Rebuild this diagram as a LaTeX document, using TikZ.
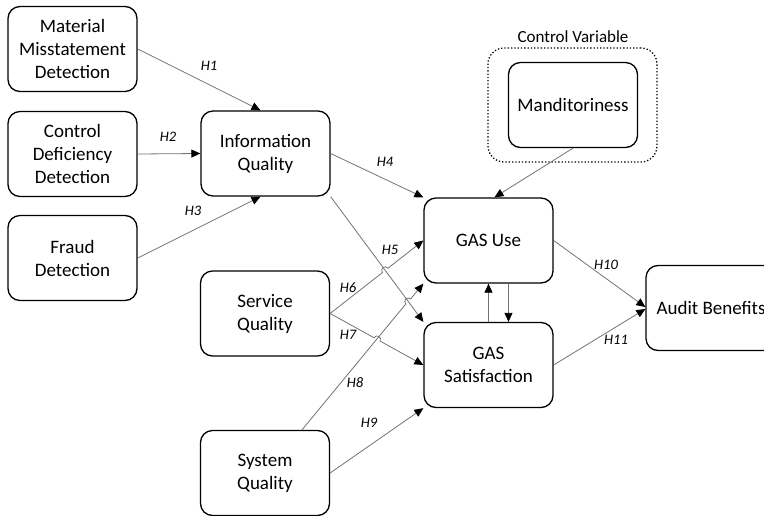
\documentclass[tikz,border=0pt]{standalone}
\usepackage{fontspec}
\setmainfont{Carlito}
\usetikzlibrary{arrows.meta,calc,intersections}

\begin{document}
\begin{tikzpicture}[x=1pt,y=-1pt,
    box/.style={draw, line width=1.3pt, rounded corners=12pt, minimum width=129pt,
        minimum height=85pt, align=center, font=\fontsize{19}{23}\selectfont},
    ctrlbox/.style={draw, dotted, line width=1.3pt, rounded corners=16pt,
        minimum width=169pt, minimum height=114pt},
    link/.style={draw=black!55, line width=0.8pt,
        -{Triangle[length=9pt,width=8pt,color=black]}},
    hop/.style={bend left=90, looseness=1.7},
    hyp/.style={font=\fontsize{14.5}{16}\selectfont\itshape, inner sep=0pt}]
    \useasboundingbox (0,0) rectangle (764,515);

    \node[box] (mmd) at (72.5,49) {Material\\Misstatement\\Detection};
    \node[box] (cdd) at (72.5,154) {Control\\Deficiency\\Detection};
    \node[box] (fd) at (72.5,258) {Fraud\\Detection};
    \node[box] (iq) at (265.5,153.5) {Information\\Quality};
    \node[box] (sq) at (265,313.5) {Service\\Quality};
    \node[box] (sys) at (265,473) {System\\Quality};
    \node[box] (gu) at (488.5,240.5) {GAS Use};
    \node[box] (gs) at (488.5,365) {GAS\\Satisfaction};
    \node[box, minimum width=130pt] (ab) at (711,308) {Audit Benefits};
    \node[box] (man) at (573,105) {Manditoriness};
    \node[ctrlbox] (ctrl) at (572.5,105) {};
    \node[font=\fontsize{17}{20}\selectfont] (ctrlLab) at (573,37) {Control Variable};

    \draw[link] (mmd.east) -- ([xshift=-5pt]iq.north);
    \draw[link] (cdd.east) -- (iq.west);
    \draw[link] (fd.east) -- ([xshift=-5pt]iq.south);
    \draw[link] (iq.east) -- (gu.north west);
    \draw[link] (man.south) -- ([xshift=6pt]gu.north);
    \draw[link] (sys.east) -- (gs.south west);
    \draw[link] (gs.north) -- (gu.south);
    \draw[link] ([xshift=20pt]gu.south) -- ([xshift=20pt]gs.north);
    \draw[link] (gu.east) -- ([yshift=1pt]ab.west);
    \draw[link] (gs.east) -- ([yshift=-1pt]ab.west);

    % crossing lines, drawn with hops
    \path[name path=iqgs] (iq.south east) -- (gs.north west);
    \path[name path=hv] (sq.east) -- (gu.west);
    \path[name path=hvii] (sq.east) -- (gs.west);
    \path[name path=hviii] ([xshift=37pt]sys.north) -- (gu.south west);
    \path[name intersections={of=hv and iqgs, by=xa}];
    \path[name intersections={of=hviii and iqgs, by=xb}];
    \path[name intersections={of=hvii and hviii, by=xc}];

    \draw[link] (iq.south east) -- (gs.north west);
    \draw[link] (sq.east) -- ($(xa)!3.5pt!(sq.east)$) to[hop]
        ($(xa)!3.5pt!(gu.west)$) -- (gu.west);
    \draw[link] ([xshift=37pt]sys.north) -- ($(xb)!3.5pt!(sys.north)$) to[hop]
        ($(xb)!3.5pt!(gu.south west)$) -- (gu.south west);
    \draw[link] (sq.east) -- ($(xc)!3.5pt!(sq.east)$) to[hop]
        ($(xc)!3.5pt!(gs.west)$) -- (gs.west);

    \foreach \n/\p in {1/{(209,66)},2/{(168,137)},3/{(193,211)},4/{(385,162)},
                       5/{(390,250)},6/{(348,288)},7/{(348,335)},8/{(355,383)},
                       9/{(369,423)},10/{(606,265)},11/{(616,340)}} {
        \node[hyp] (lab\n) at \p {H\n};
    }
\end{tikzpicture}
\end{document}
